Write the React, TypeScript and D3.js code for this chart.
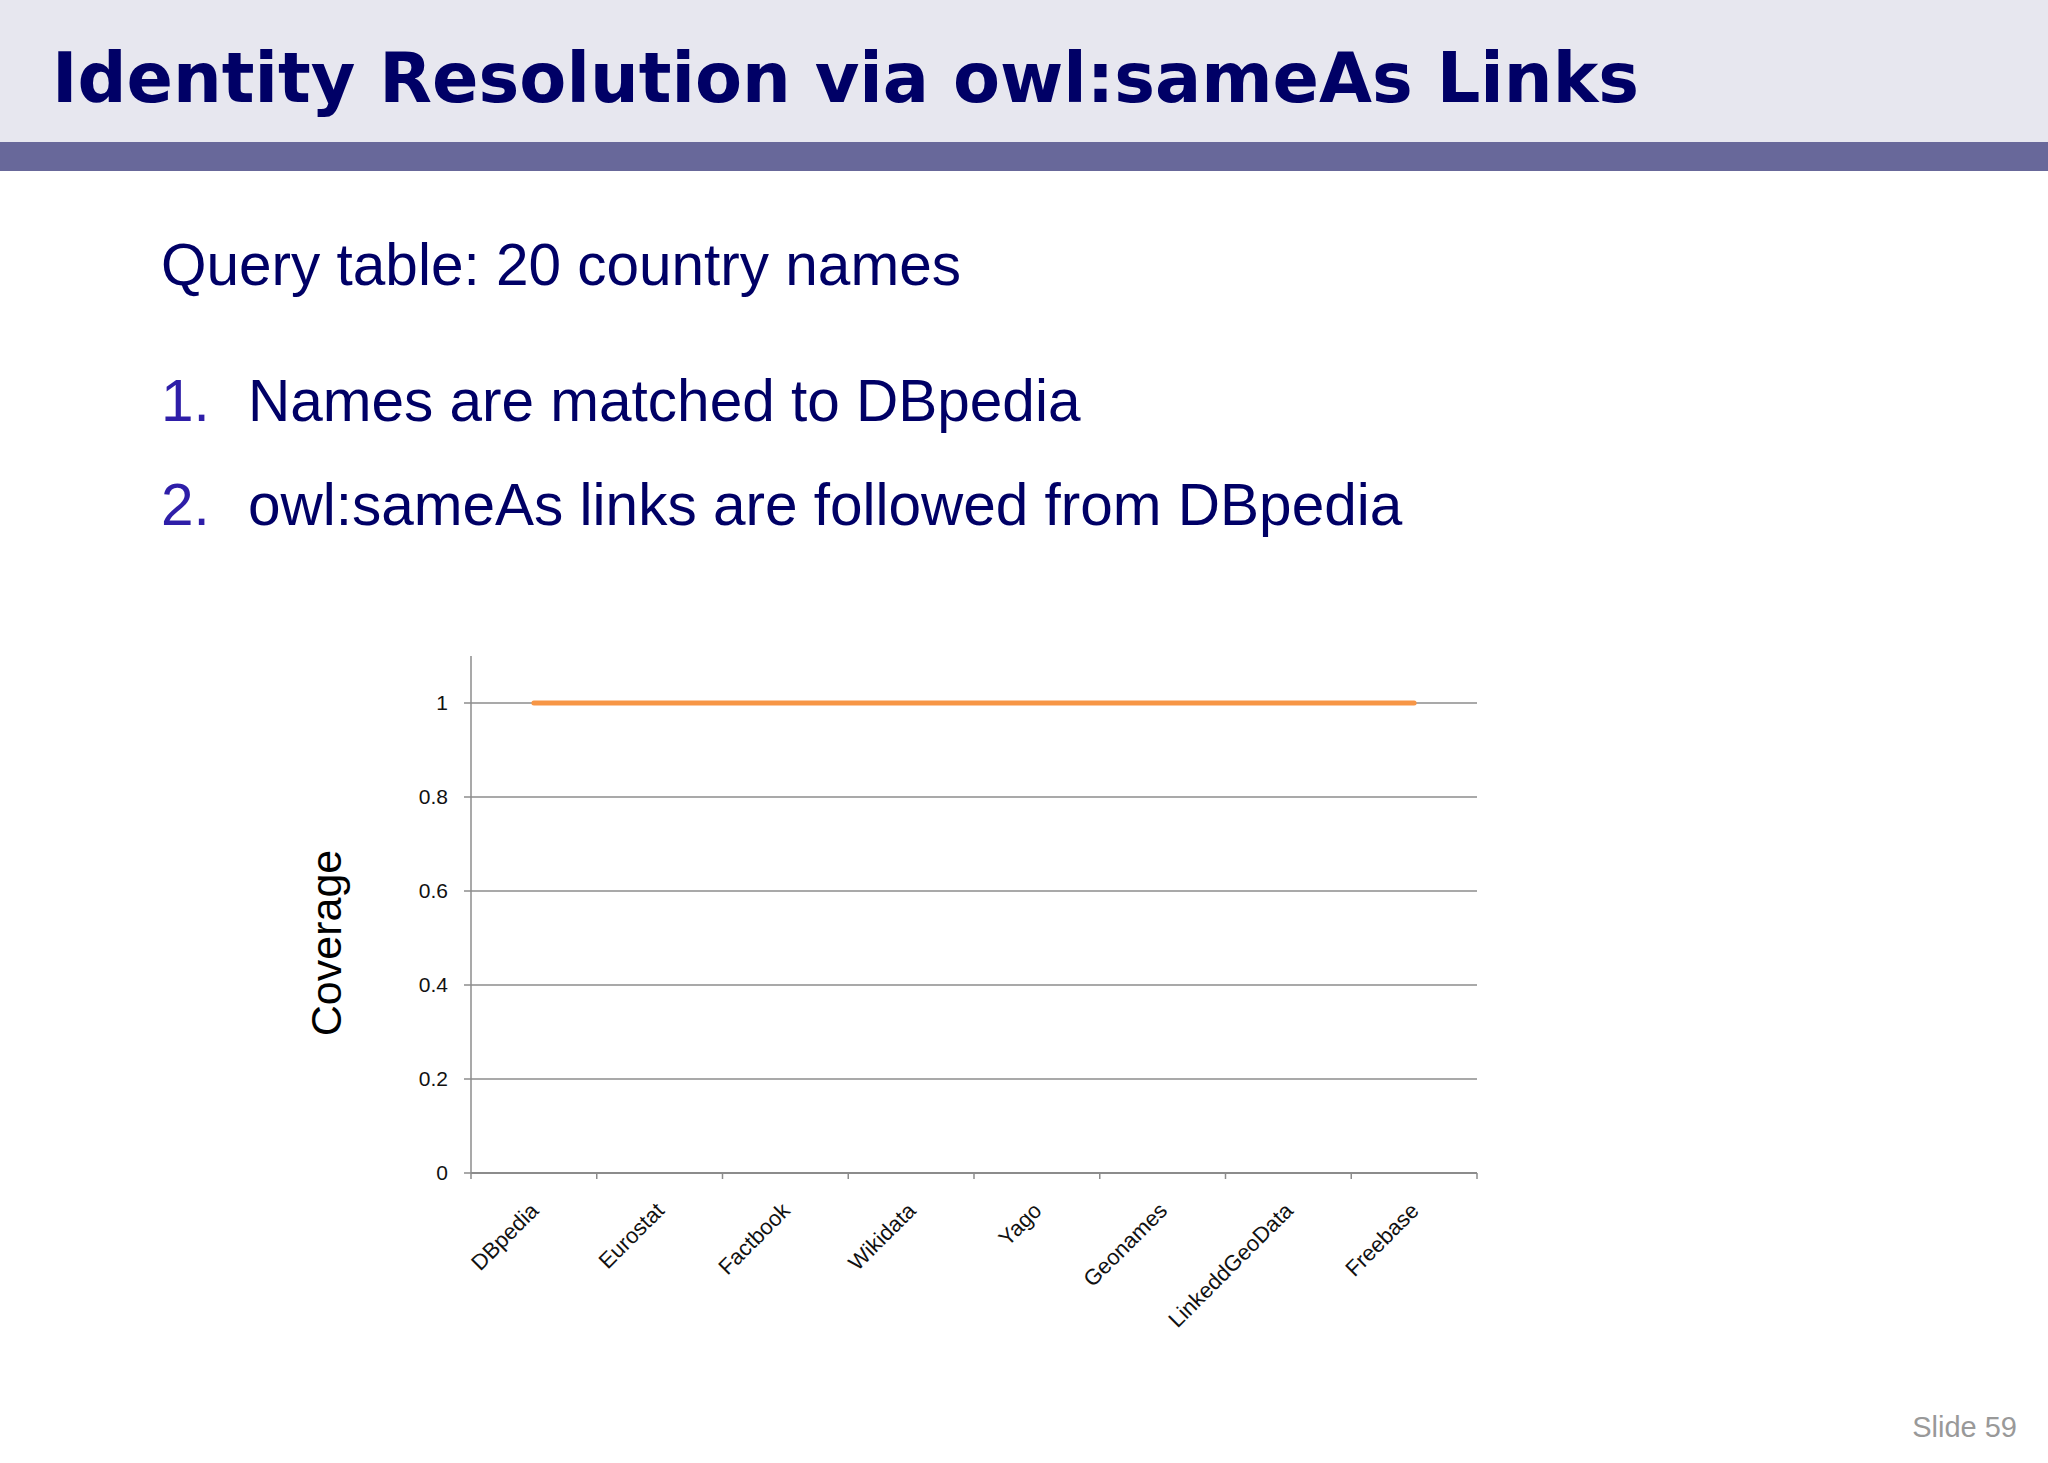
import React from "react";
import * as d3 from "d3";

// chart values
const sources = ["DBpedia", "Eurostat", "Factbook", "Wikidata", "Yago", "Geonames", "LinkeddGeoData", "Freebase"];
const coverage = [1, 1, 1, 1, 1, 1, 1, 1];
const yTicks = [0, 0.2, 0.4, 0.6, 0.8, 1];

const bullets = ["Names are matched to DBpedia", "owl:sameAs links are followed from DBpedia"];

const W = 2048;
const H = 1463;
const navy = "#000066";
const axisGray = "#8c8c8c";

export default function App() {
  const x = d3.scaleBand().domain(sources).range([471, 1477]).padding(0);
  const y = d3.scaleLinear().domain([0, 1.1]).range([1173, 656]);
  const cx = (d: string) => (x(d) as number) + x.bandwidth() / 2;

  const line = d3.line<number>()
    .x((d, i) => cx(sources[i]))
    .y(d => y(d));

  const x0 = x.range()[0];
  const x1 = x.range()[1];
  const tickEdges = sources.map(s => x(s) as number).concat([x1]);

  return (
    <svg width={W} height={H} style={{ position: "absolute", left: 0, top: 0, background: "#fff" }}>
      {/* header band */}
      <rect x={0} y={0} width={W} height={142} fill="#e7e7ef" />
      <rect x={0} y={142} width={W} height={29} fill="#68689a" />
      <text x={52} y={102} fontFamily="DejaVu Sans, Verdana, sans-serif" fontWeight="bold" fontSize={70}
        fill={navy} textLength={1587} lengthAdjust="spacingAndGlyphs">
        Identity Resolution via owl:sameAs Links
      </text>

      {/* body text */}
      <g fontFamily="Liberation Sans, Arial, sans-serif" fontSize={58.5}>
        <text x={161} y={285} fill={navy}>Query table: 20 country names</text>
        {bullets.map((b, i) => (
          <g key={b}>
            <text x={161} y={421 + i * 104} fill="#2e1ea8">{i + 1}.</text>
            <text x={248} y={421 + i * 104} fill={navy}>{b}</text>
          </g>
        ))}
      </g>

      {/* gridlines + y ticks */}
      <g fontFamily="Liberation Sans, Arial, sans-serif" fontSize={21} fill="#111">
        {yTicks.map(t => (
          <g key={t}>
            <line x1={464} x2={x1} y1={y(t)} y2={y(t)} stroke={axisGray} strokeWidth={1.5} />
            <text x={448} y={y(t)} dy="0.35em" textAnchor="end">{String(t)}</text>
          </g>
        ))}
      </g>

      {/* axes */}
      <line x1={x0} x2={x0} y1={y(1.1)} y2={y(0)} stroke={axisGray} strokeWidth={1.5} />
      <line x1={x0} x2={x1} y1={y(0)} y2={y(0)} stroke={axisGray} strokeWidth={2} />
      {tickEdges.map((e, i) => (
        <line key={i} x1={e} x2={e} y1={y(0)} y2={y(0) + 6} stroke={axisGray} strokeWidth={1.5} />
      ))}

      {/* x labels */}
      <g fontFamily="Liberation Sans, Arial, sans-serif" fontSize={22} fill="#111">
        {sources.map(s => (
          <text key={s} x={cx(s) + 6} y={1212} textAnchor="end" transform={`rotate(-45, ${cx(s) + 6}, 1212)`}>{s}</text>
        ))}
      </g>

      {/* series */}
      <path d={line(coverage) || ""} fill="none" stroke="#f79646" strokeWidth={5} strokeLinecap="round" />

      {/* y axis title */}
      <text transform="translate(341, 943) rotate(-90)" textAnchor="middle" fontFamily="Liberation Sans, Arial, sans-serif" fontSize={43} fill="#000">
        Coverage
      </text>

      <text x={2017} y={1437} textAnchor="end" fontFamily="Liberation Sans, Arial, sans-serif" fontSize={29} fill="#999">
        Slide 59
      </text>
    </svg>
  );
}
